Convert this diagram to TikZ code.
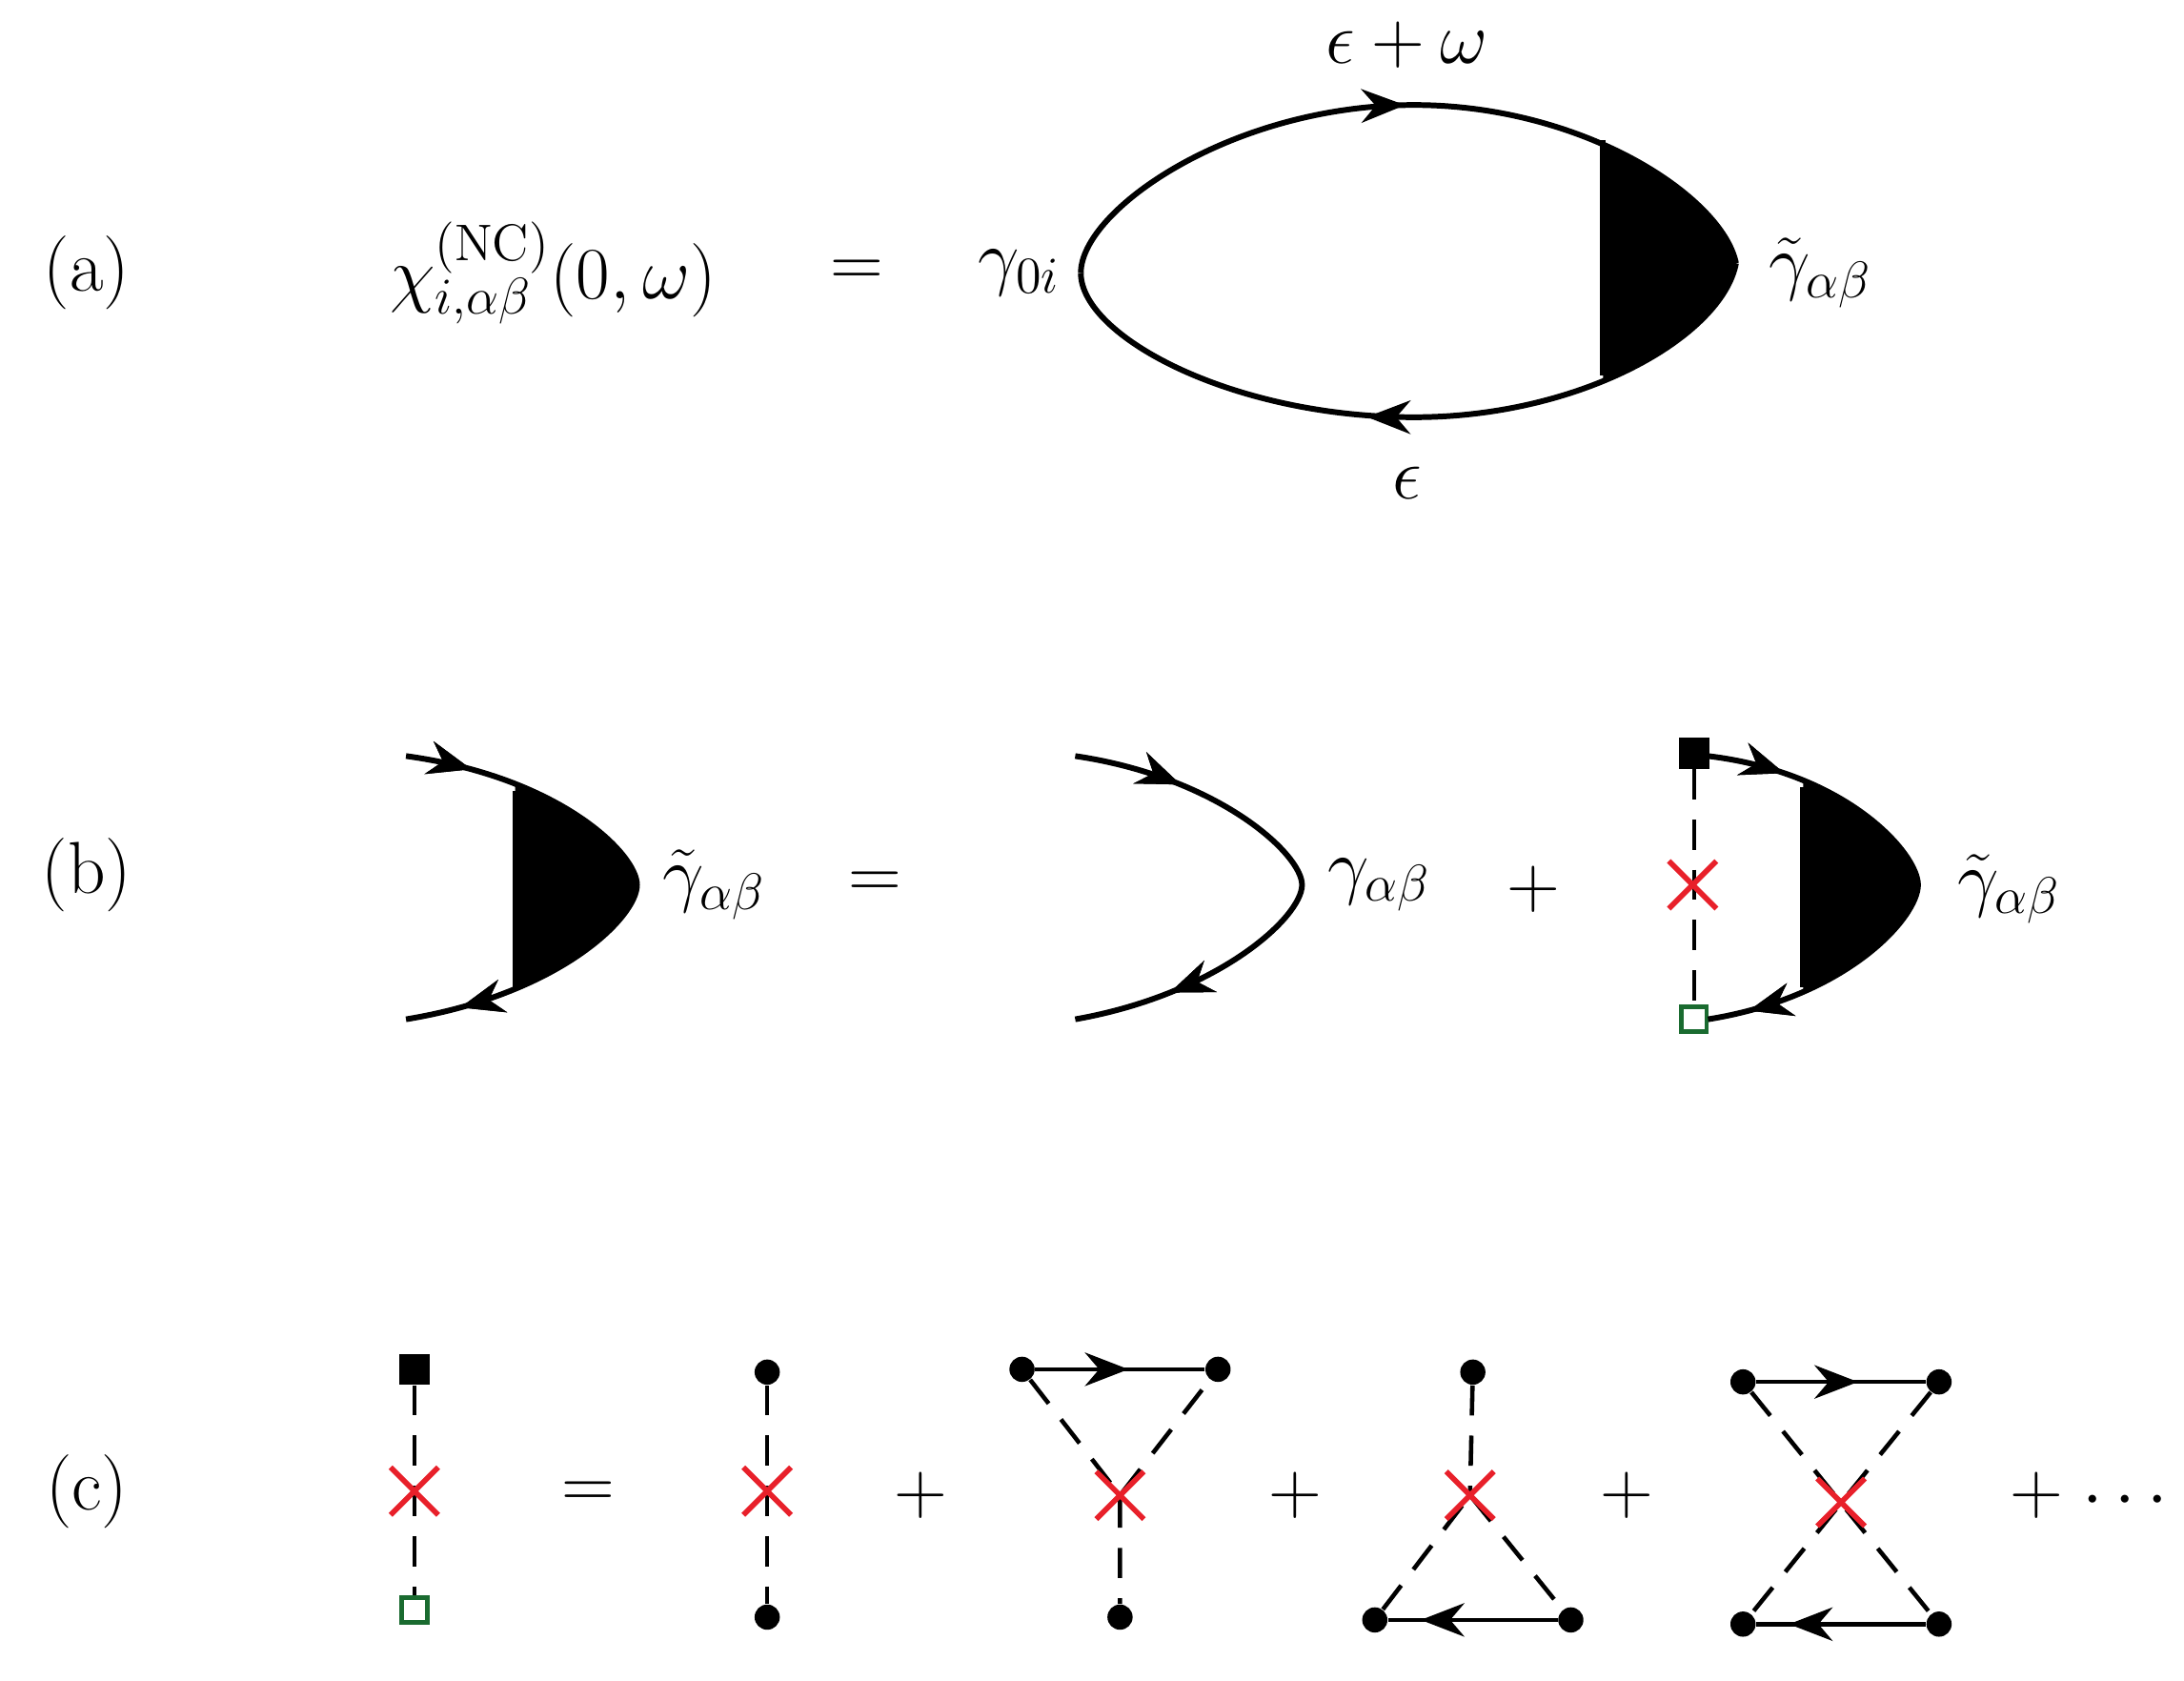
\documentclass[tikz,border=0pt]{standalone}
\usepackage{fix-cm}
\usetikzlibrary{decorations.markings,arrows.meta,calc}
\definecolor{xred}{HTML}{E8202A}
\definecolor{xgreen}{HTML}{1A6B30}
\begin{document}
\begin{tikzpicture}[x=0.0147cm,y=-0.0147cm,
  every node/.style={font=\fontsize{22}{26}\selectfont},
  prop/.style={line width=1.7pt},
  dsh/.style={line width=1.3pt,dash pattern=on 9pt off 6pt},
  midr/.style={postaction={decorate},decoration={markings,mark=at position #1 with {\arrow{Stealth[length=13pt,width=10pt]}}}},
  midl/.style={postaction={decorate},decoration={markings,mark=at position #1 with {\arrow{Stealth[length=13pt,width=10pt,reversed]}}}},
  dot/.style={circle,fill=black,inner sep=0pt,minimum size=18*0.0147cm},
  fsq/.style={rectangle,fill=black,inner sep=0pt,minimum size=22*0.0147cm},
  osq/.style={rectangle,draw=xgreen,fill=white,line width=1.4pt,inner sep=0pt,minimum size=18*0.0147cm},
  xx/.style={inner sep=0pt,minimum size=1pt}]
\useasboundingbox (0,0) rectangle (1560,1200);
\newcommand{\xcross}[1]{\draw[xred,line width=1.6pt] ($(#1)+(-17,-17)$)--($(#1)+(17,17)$) ($(#1)+(-17,17)$)--($(#1)+(17,-17)$);}
% (a)
\node (la) at (62,195) {(a)};
\node (chi) at (395,195) {$\chi^{(\mathrm{NC})}_{i,\alpha\beta}(0,\omega)$};
\node (eqa) at (612,195) {$=$};
\node (g0) at (728,195) {$\gamma_{0i}$};
\begin{scope}
\clip (1145,0) rectangle (1300,400);
\fill (772,195) .. controls (772,150) and (880,75) .. (1010,75) .. controls (1130,75) and (1230,140) .. (1240,188)
  .. controls (1230,240) and (1130,298) .. (1010,298) .. controls (880,298) and (772,240) .. (772,195);
\end{scope}
\draw[prop] (1145,100) -- (1145,268);
\draw[prop,midr=0.5] (772,195) .. controls (772,150) and (880,75) .. (1010,75) .. controls (1130,75) and (1230,140) .. (1240,188);
\draw[prop,midl=0.5] (772,195) .. controls (772,240) and (880,298) .. (1010,298) .. controls (1130,298) and (1230,240) .. (1240,188);
\node (ew) at (1005,32) {$\epsilon+\omega$};
\node (e) at (1005,345) {$\epsilon$};
\node (gta) at (1300,195) {$\tilde\gamma_{\alpha\beta}$};
% (b)
\node (lb) at (62,625) {(b)};
\begin{scope}
\clip (368,500) rectangle (470,760);
\fill (290,540) .. controls (400,555) and (455,610) .. (455,632) .. controls (455,655) and (400,710) .. (290,728);
\end{scope}
\draw[prop] (368,565) -- (368,705);
\draw[prop,midr=0.12,midr=0.9] (290,540) .. controls (400,555) and (455,610) .. (455,632) .. controls (455,655) and (400,710) .. (290,728);
\node (gtb) at (510,632) {$\tilde\gamma_{\alpha\beta}$};
\node (eqb) at (625,632) {$=$};
\draw[prop,midr=0.2,midr=0.82] (768,540) .. controls (870,555) and (930,610) .. (930,632) .. controls (930,655) and (870,710) .. (768,728);
\node (gb) at (985,632) {$\gamma_{\alpha\beta}$};
\node (pb) at (1095,635) {$+$};
\node[fsq] (bs) at (1210,538) {};
\node[osq] (bo) at (1210,728) {};
\node[xx] (bx) at (1209,632) {};
\draw[dsh] (bs) -- (bo);
\xcross{bx}
\begin{scope}
\clip (1288,500) rectangle (1390,760);
\fill (1220,540) .. controls (1320,552) and (1370,610) .. (1370,632) .. controls (1370,655) and (1320,712) .. (1220,728);
\end{scope}
\draw[prop] (1288,562) -- (1288,705);
\draw[prop,midr=0.15,midr=0.92] (1220,540) .. controls (1320,552) and (1370,610) .. (1370,632) .. controls (1370,655) and (1320,712) .. (1220,728);
\node (gtb2) at (1435,635) {$\tilde\gamma_{\alpha\beta}$};
% (c)
\node (lc) at (62,1065) {(c)};
\node[fsq] (cs) at (296,978) {};
\node[osq] (co) at (296,1150) {};
\node[xx] (cx) at (296,1065) {};
\draw[dsh] (cs) -- (co);
\xcross{cx}
\node (eqc) at (420,1068) {$=$};
\node[dot] (t1a) at (548,980) {};
\node[dot] (t1b) at (548,1155) {};
\node[xx] (t1x) at (548,1065) {};
\draw[dsh] (t1a) -- (t1b);
\xcross{t1x}
\node (p1) at (658,1068) {$+$};
\node[dot] (t2a) at (730,978) {};
\node[dot] (t2b) at (870,978) {};
\node[xx] (t2x) at (800,1068) {};
\node[dot] (t2c) at (800,1155) {};
\draw[prop,line width=1.3pt,midr=0.55] (t2a) -- (t2b);
\draw[dsh] (t2a) -- (t2x) -- (t2b) (t2x) -- (t2c);
\xcross{t2x}
\node (p2) at (925,1068) {$+$};
\node[dot] (t3a) at (1052,980) {};
\node[xx] (t3x) at (1050,1068) {};
\node[dot] (t3b) at (982,1157) {};
\node[dot] (t3c) at (1122,1157) {};
\draw[prop,line width=1.3pt,midl=0.45] (t3b) -- (t3c);
\draw[dsh] (t3a) -- (t3x) (t3b) -- (t3x) -- (t3c);
\xcross{t3x}
\node (p3) at (1162,1068) {$+$};
\node[dot] (t4a) at (1245,987) {};
\node[dot] (t4b) at (1385,987) {};
\node[dot] (t4c) at (1245,1160) {};
\node[dot] (t4d) at (1385,1160) {};
\node[xx] (t4x) at (1315,1073) {};
\draw[prop,line width=1.3pt,midr=0.6] (t4a) -- (t4b);
\draw[prop,line width=1.3pt,midl=0.45] (t4c) -- (t4d);
\draw[dsh] (t4a) -- (t4d) (t4b) -- (t4c);
\xcross{t4x}
\node (p4) at (1455,1068) {$+$};
\node (dots) at (1518,1072) {$\cdots$};
\end{tikzpicture}
\end{document}
